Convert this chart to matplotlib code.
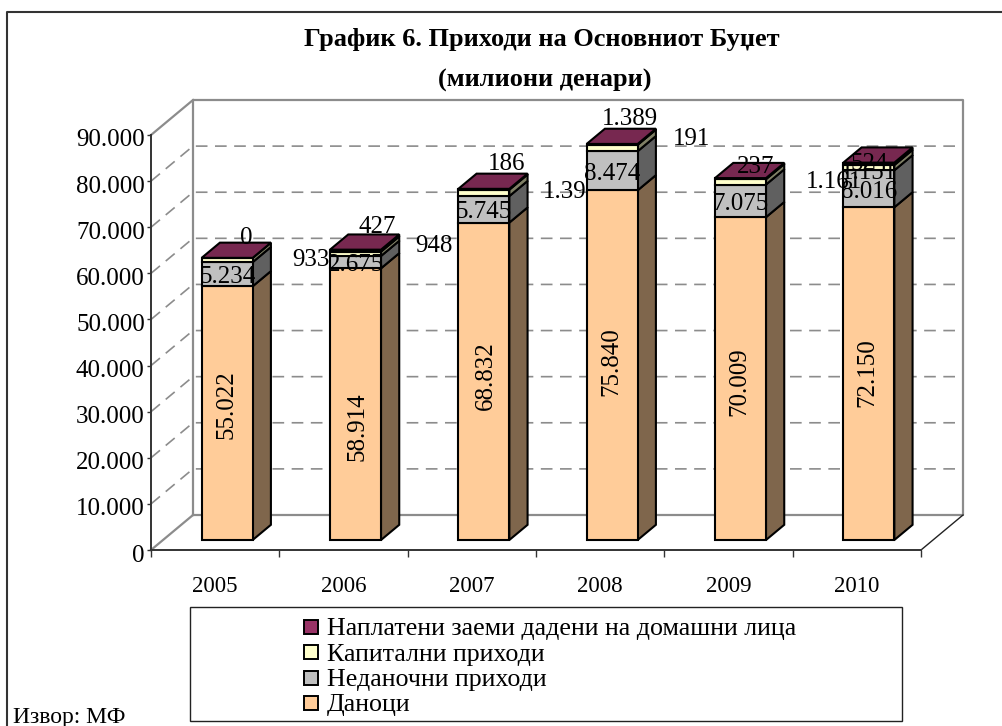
import matplotlib
matplotlib.use("Agg")
import matplotlib.pyplot as plt
from matplotlib.lines import Line2D
from matplotlib.patches import Polygon, Rectangle
from matplotlib.transforms import ScaledTranslation

plt.rcParams['font.family'] = ['Liberation Serif', 'DejaVu Serif']

years = ['2005', '2006', '2007', '2008', '2009', '2010']
taxes = [55022, 58914, 68832, 75840, 70009, 72150]
nontax = [5234, 2675, 5745, 8474, 7075, 8016]
capital = [933, 948, 1390, 1389, 1161, 1151]
loans = [0, 427, 186, 191, 237, 524]
capital_labels = ['933', '948', '1.39', '1.389', '1.161', '1.151']
series_names = ['Даноци', 'Неданочни приходи', 'Капитални приходи',
                'Наплатени заеми дадени на домашни лица']
yticks = [0, 10000, 20000, 30000, 40000, 50000, 60000, 70000, 80000, 90000]

W, H = 1002, 726
front = ['#FFCC99', '#C0C0C0', '#FFFFCC', '#993366']
side = ['#7F664C', '#606060', '#808066', '#4C1933']
top_color = '#772850'
GRAY = '#8C8C8C'
FS = 18

# label shifts in pixels from the middle of each segment
tax_shift = [(-1, 9), (2, -23), (2, 6), (-1, 4), (-1, -3), (-1, 1)]
cap_shift = [(84, 0), (78, 8), (81, 1), (18, 29), (93, 0), (0, -5)]
loan_shift = [(19, 20), (22, 24), (23, 25), (79, 5), (15, 12), (0, 0)]
nontax_shift = (0, -3)

fig = plt.figure(figsize=(W / 100, H / 100), dpi=100)
# axes = front plane of the 3d box
left, right, bottom, top = 151, 921, 550, 135
ax = fig.add_axes([left / W, 1 - bottom / H, (right - left) / W, (bottom - top) / H])
ax.set_xlim(0, 6)
ax.set_ylim(0, 90000)
ax.patch.set_visible(False)

# one unit of depth, in data units
DX = 42 / ((right - left) / 6)
DY = 35 / ((bottom - top) / 90000)


def proj(x, y, d):
    return (x + d * DX, y + d * DY)


# walls
ax.plot(*zip(proj(0, 0, 1), proj(0, 90000, 1), proj(6, 90000, 1), proj(6, 0, 1), proj(0, 0, 1)),
        color=GRAY, lw=1.6, clip_on=False, zorder=1)
ax.plot(*zip((0, 90000), proj(0, 90000, 1)), color=GRAY, lw=1.6, clip_on=False, zorder=1)
ax.plot(*zip((0, 0), proj(0, 0, 1)), color=GRAY, lw=1.6, clip_on=False, zorder=1)
ax.plot(*zip((6, 0), proj(6, 0, 1)), color='#222222', lw=1, clip_on=False, zorder=1)
for v in yticks[1:-1]:
    ax.plot(*zip((0, v), proj(0, v, 1), proj(6, v, 1)), color=GRAY, lw=1.2,
            dashes=(7, 4.5), clip_on=False, zorder=1)

# bars
D0, D1 = 0.286, 0.72
BW = 51 / ((right - left) / 6)


def put(txt, x, ymid, shift, rot=0):
    px, py = proj(x, ymid, D0)
    ax.annotate(txt, xy=(px, py), xytext=shift, textcoords='offset pixels', ha='center',
                va='center', fontsize=FS, rotation=rot, color='black',
                annotation_clip=False, zorder=5)


for i in range(len(years)):
    x0 = i + 0.5 - BW / 2
    x1 = x0 + BW
    base = 0
    for k, vals in enumerate([taxes, nontax, capital, loans]):
        y0, y1 = base, base + vals[i]
        face = [proj(x0, y0, D0), proj(x1, y0, D0), proj(x1, y1, D0), proj(x0, y1, D0)]
        sd = [proj(x1, y0, D0), proj(x1, y0, D1), proj(x1, y1, D1), proj(x1, y1, D0)]
        ax.add_patch(Polygon(sd, fc=side[k], ec='black', lw=1.5, zorder=3, clip_on=False))
        ax.add_patch(Polygon(face, fc=front[k], ec='black', lw=1.5, zorder=3, clip_on=False))
        base = y1
    lid = [proj(x0, base, D0), proj(x1, base, D0), proj(x1, base, D1), proj(x0, base, D1)]
    ax.add_patch(Polygon(lid, fc=top_color, ec='black', lw=1.5, zorder=3, clip_on=False))

    # value labels
    s = taxes[i]
    put(f'{taxes[i]:,}'.replace(',', '.'), i + 0.5, s / 2, tax_shift[i], rot=90)
    put(f'{nontax[i]:,}'.replace(',', '.'), i + 0.5, s + nontax[i] / 2, nontax_shift)
    s += nontax[i]
    put(capital_labels[i], i + 0.5, s + capital[i] / 2, cap_shift[i])
    s += capital[i]
    put(str(loans[i]), i + 0.5, s + loans[i] / 2, loan_shift[i])

# axes and ticks
for sp in ('top', 'right'):
    ax.spines[sp].set_visible(False)
for sp in ('left', 'bottom'):
    ax.spines[sp].set_color('#333333')
    ax.spines[sp].set_linewidth(1.4)
    ax.spines[sp].set_zorder(2)
ax.set_yticks(yticks)
ax.set_yticklabels([f'{v:,}'.replace(',', '.') for v in yticks], fontsize=FS)
ax.set_xticks(range(7))
ax.set_xticklabels([])
ax.tick_params(axis='x', length=5, width=1, color='#333333')
ax.tick_params(axis='y', length=3, width=1, color='#333333', pad=1.5)
for lbl in ax.get_yticklabels():
    lbl.set_transform(lbl.get_transform() + ScaledTranslation(0, -0.03, fig.dpi_scale_trans))
for i, yr in enumerate(years):
    ax.annotate(yr, xy=(i + 0.5, 0), xytext=(0, -37), textcoords='offset pixels', ha='center',
                va='center', fontsize=16.5, annotation_clip=False)

# outer frame (left and top only), title, source
fig.add_artist(Line2D([7 / W, 7 / W, 1], [0, 1 - 12 / H, 1 - 12 / H], color='#333333', lw=1.5))
fig.text(542 / W, 1 - 39.5 / H, 'График 6. Приходи на Основниот Буџет', ha='center', va='center',
         fontsize=19, fontweight='bold')
fig.text(545 / W, 1 - 80 / H, '(милиони денари)', ha='center', va='center',
         fontsize=19, fontweight='bold')
fig.text(13 / W, 1 - 717 / H, 'Извор: МФ', ha='left', va='center', fontsize=17)

# legend
fig.add_artist(Rectangle((190 / W, 1 - 721 / H), 712 / W, 114 / H, transform=fig.transFigure,
                         fc='white', ec='#222222', lw=1))
for row, k in enumerate([3, 2, 1, 0]):
    yc = 627 + row * 25.3
    fig.add_artist(Rectangle((304 / W, 1 - (yc + 7) / H), 14 / W, 14 / H, transform=fig.transFigure,
                             fc=front[k], ec='black', lw=1.4))
    fig.text(327 / W, 1 - (yc + 2.5) / H, series_names[k], ha='left', va='center', fontsize=18.7)

fig.savefig('out.png', dpi=100)
